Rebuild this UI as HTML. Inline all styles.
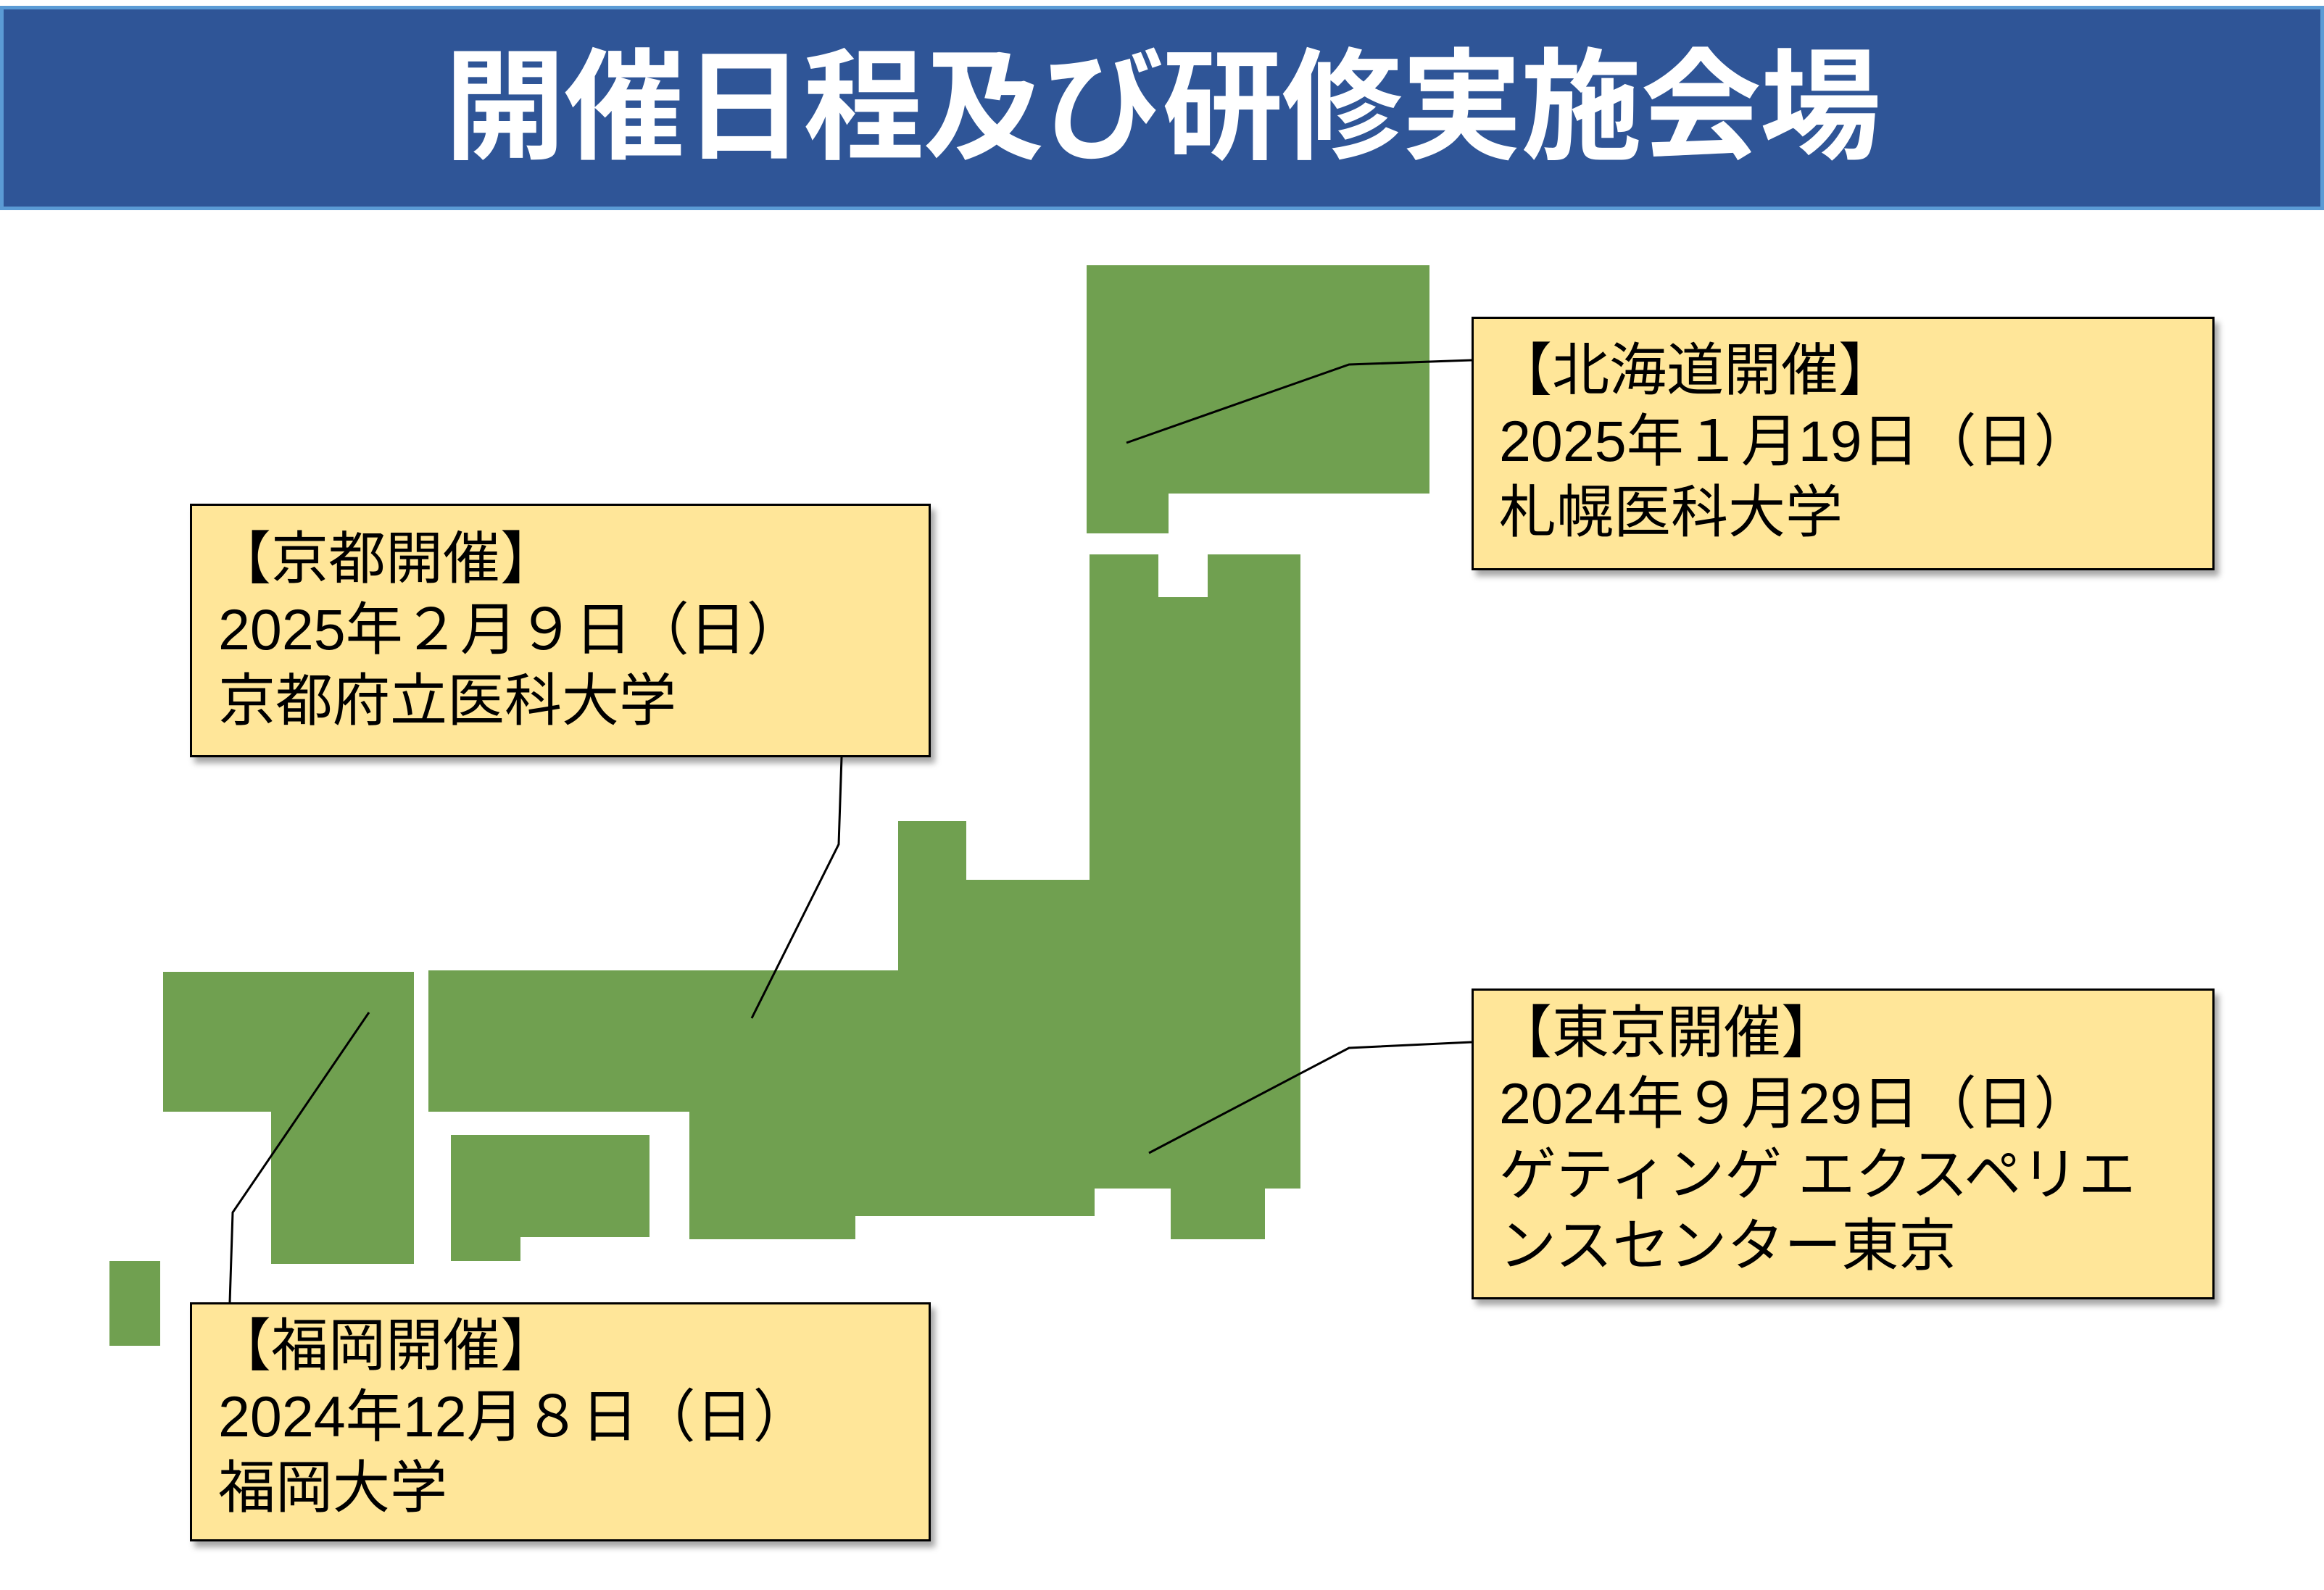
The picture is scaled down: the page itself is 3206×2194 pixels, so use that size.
<!DOCTYPE html>
<html><head><meta charset="utf-8">
<style>
html,body{margin:0;padding:0;background:#fff;}
body{width:3206px;height:2194px;position:relative;overflow:hidden;font-family:"Liberation Sans","Noto Sans CJK JP",sans-serif;}
.banner{position:absolute;left:0;top:8px;width:3196px;height:272px;background:#2F5597;border:5px solid #5B9BD5;}
.title{position:absolute;left:0;top:8px;width:3206px;height:282px;line-height:282px;text-align:center;color:#fff;font-weight:bold;font-size:167px;letter-spacing:-2px;}
svg{position:absolute;left:0;top:0;}
.box{position:absolute;background:#FFE699;border:3px solid #000;box-sizing:border-box;box-shadow:6px 8px 8px rgba(0,0,0,0.35);font-size:79px;line-height:98px;color:#000;white-space:nowrap;}
.b1{margin-left:-6px;}
</style></head><body>
<div class="banner"></div>
<div class="title">開催日程及び研修実施会場</div>
<svg width="3206" height="2194" viewBox="0 0 3206 2194">
<g fill="#70A050">
<rect x="1499" y="366" width="473" height="315"/>
<rect x="1499" y="660" width="113" height="76"/>
<rect x="1503" y="765" width="291" height="875"/>
<rect x="1239" y="1133" width="94" height="100"/>
<rect x="1239" y="1214" width="555" height="426"/>
<rect x="591" y="1339" width="650" height="195"/>
<rect x="951" y="1500" width="843" height="135"/>
<rect x="951" y="1600" width="229" height="110"/>
<rect x="1180" y="1600" width="330" height="78"/>
<rect x="1615" y="1600" width="130" height="110"/>
<rect x="622" y="1566" width="274" height="141"/>
<rect x="622" y="1700" width="96" height="40"/>
<rect x="225" y="1341" width="346" height="193"/>
<rect x="374" y="1530" width="197" height="214"/>
<rect x="151" y="1740" width="70" height="117"/>
</g>
<rect x="1598" y="760" width="68" height="64" fill="#fff"/>
<g fill="none" stroke="#000" stroke-width="3">
<polyline points="1554,611 1861,503 2030,497"/>
<polyline points="1037,1405 1157,1165 1161,1045"/>
<polyline points="509,1397 321,1673 317,1797"/>
<polyline points="1585,1591 1861,1446 2030,1438"/>
</g>
</svg>
<div class="box" style="left:2030px;top:437px;width:1025px;height:350px;padding:22px 0 0 35px;"><span class="b1">【北海道開催】</span><br>2025年１月19日（日）<br>札幌医科大学</div>
<div class="box" style="left:262px;top:695px;width:1022px;height:350px;padding:24px 0 0 36px;"><span class="b1">【京都開催】</span><br>2025年２月９日（日）<br>京都府立医科大学</div>
<div class="box" style="left:262px;top:1797px;width:1022px;height:330px;padding:8px 0 0 36px;"><span class="b1">【福岡開催】</span><br>2024年12月８日（日）<br>福岡大学</div>
<div class="box" style="left:2030px;top:1364px;width:1025px;height:429px;padding:9px 0 0 35px;"><span class="b1">【東京開催】</span><br>2024年９月29日（日）<br>ゲティンゲ エクスペリエ<br>ンスセンター東京</div>
</body></html>
